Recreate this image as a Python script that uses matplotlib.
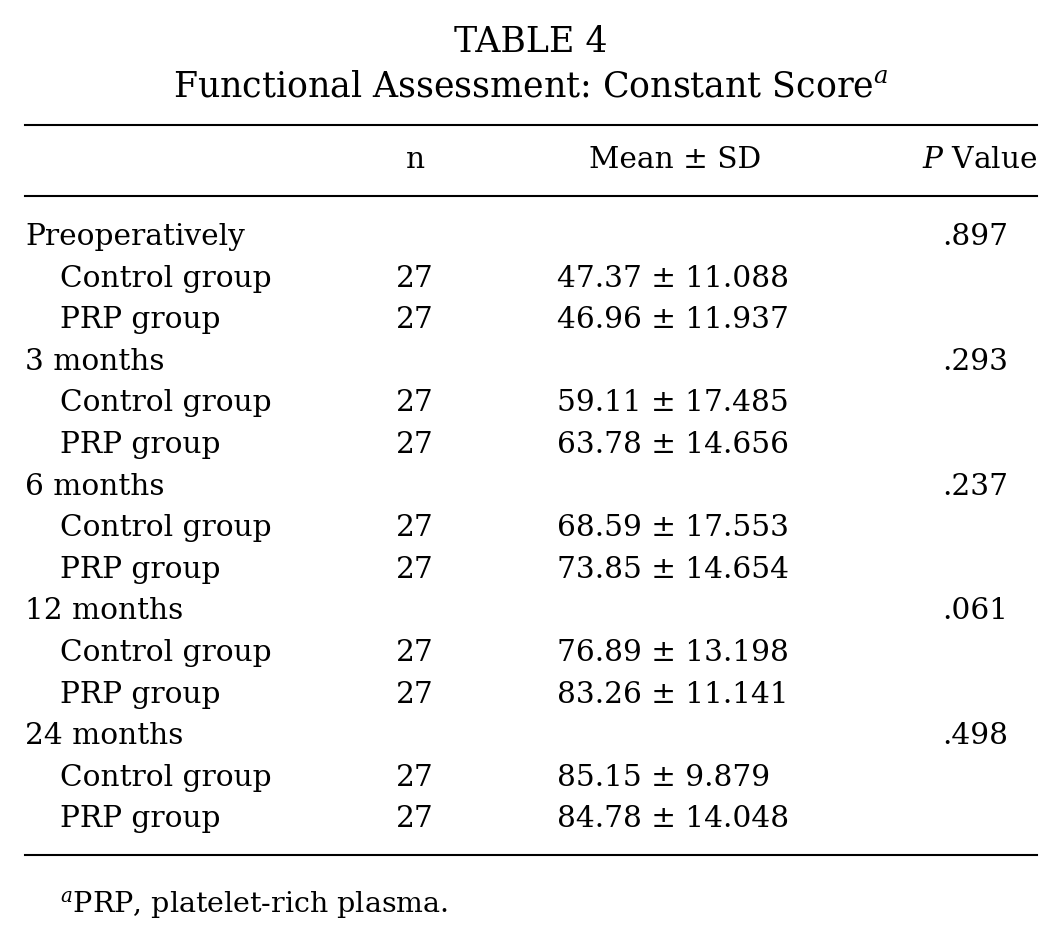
import matplotlib
matplotlib.use("Agg")
import matplotlib.pyplot as plt

W, H = 1063, 943

groups = ["Preoperatively", "3 months", "6 months", "12 months", "24 months"]
p_values = [".897", ".293", ".237", ".061", ".498"]
n_values = [27, 27, 27, 27, 27, 27, 27, 27, 27, 27]
means = ["47.37", "46.96", "59.11", "63.78", "68.59", "73.85", "76.89", "83.26", "85.15", "84.78"]
sds = ["11.088", "11.937", "17.485", "14.656", "17.553", "14.654", "13.198", "11.141", "9.879", "14.048"]
sub_labels = ["Control group", "PRP group"]

plt.rcParams['font.family'] = ['DejaVu Serif']
plt.rcParams['mathtext.fontset'] = 'dejavuserif'
fig = plt.figure(figsize=(W / 100, H / 100), dpi=100)
fs = 21.3


def t(x, y, s, ha="left", size=fs, **kw):
    fig.text(x / W, 1 - y / H, s, ha=ha, va="center", fontsize=size, **kw)


def hline(y, lw=1.5):
    fig.add_artist(plt.Line2D([25 / W, 1037 / W], [1 - y / H] * 2, color="black", lw=lw))


t(531, 42, "TABLE 4", ha="center", size=25)
t(531, 87, r"Functional Assessment: Constant Score$^{\it a}$", ha="center", size=25)
hline(125)
t(415, 160, "n", ha="center")
t(675, 160, "Mean ± SD", ha="center")
t(1037, 160, r"$\it{P}$ Value", ha="right")
hline(196)

y = 237
step = 41.6
k = 0
for g, p in zip(groups, p_values):
    t(25, y, g)
    t(1008, y, p, ha="right")
    y += step
    for lab in sub_labels:
        t(60, y, lab)
        t(415, y, str(n_values[k]), ha="center")
        t(557, y, f"{means[k]} ± {sds[k]}")
        k += 1
        y += step

hline(855)
t(60, 905, r"$^{\it a}$PRP, platelet-rich plasma.", size=20.5)

fig.savefig("out.png", dpi=100, facecolor="white")
